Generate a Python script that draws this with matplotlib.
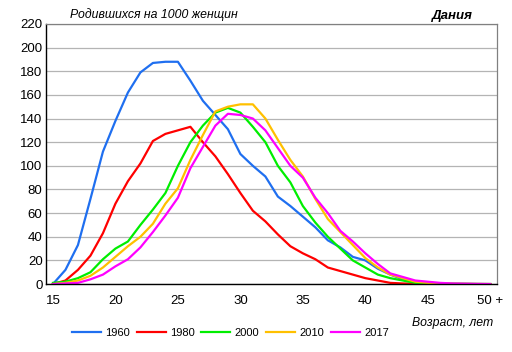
import matplotlib.pyplot as plt

plt.rcParams['font.family'] = ['Liberation Sans', 'DejaVu Sans']

# Возраст матери (15 ... 50+)
ages = list(range(15, 51))

births_1960 = [0, 12, 33, 72, 112, 138, 162, 179, 187, 188, 188, 172, 155, 143, 131, 110,
               100, 91, 74, 66, 57, 48, 37, 31, 23, 20, 13, 8, 4, 2, 1, 0.5, 0.3, 0.2, 0.1, 0]
births_1980 = [0, 3, 12, 24, 43, 68, 87, 102, 121, 127, 130, 133, 120, 108, 93, 77,
               62, 53, 42, 32, 26, 21, 14, 11, 8, 5, 3, 1, 0.5, 0.3, 0.2, 0.1, 0, 0, 0, 0]
births_2000 = [1, 2, 5, 10, 21, 30, 36, 50, 63, 77, 100, 120, 134, 145, 149, 145,
               133, 120, 100, 86, 66, 52, 40, 30, 20, 14, 8, 5, 3, 1, 0.5, 0.3, 0.2, 0.1, 0, 0]
births_2010 = [0, 1, 3, 7, 14, 23, 32, 40, 51, 68, 81, 105, 126, 146, 150, 152,
               152, 140, 122, 105, 91, 72, 55, 44, 33, 22, 14, 8, 5, 2, 1, 0.5, 0.3, 0.2, 0.1, 0]
births_2017 = [0, 0.5, 1, 4, 8, 15, 21, 31, 44, 58, 73, 98, 116, 134, 144, 143,
               140, 130, 115, 100, 90, 73, 60, 45, 36, 26, 17, 9, 6, 3, 2, 1, 0.5, 0.3, 0.1, 0]

series = [("1960", births_1960, "#1f6ff0"),
          ("1980", births_1980, "#ff0000"),
          ("2000", births_2000, "#00ee00"),
          ("2010", births_2010, "#ffc000"),
          ("2017", births_2017, "#ff00ff")]

x_ticks = [15, 20, 25, 30, 35, 40, 45, 50]
x_labels = ["15", "20", "25", "30", "35", "40", "45", "50 +"]

fig = plt.figure(figsize=(5.12, 3.52), dpi=100)
ax = fig.add_axes([0.09, 0.193, 0.881, 0.739])

for name, vals, col in series:
    ax.plot(ages, vals, color=col, linewidth=1.6, label=name)

ax.set_xlim(14.45, 50.55)
ax.set_ylim(0, 220)
ax.set_yticks(range(0, 221, 20))
ax.set_xticks(x_ticks)
ax.set_xticklabels(x_labels)
ax.tick_params(axis='both', length=0, labelsize=9.5)
ax.tick_params(axis='x', pad=8)
ax.tick_params(axis='y', pad=2.5)

ax.grid(axis='y', color='#b4b4b4', linewidth=0.9)
ax.set_axisbelow(True)
for s in ['top', 'right']:
    ax.spines[s].set_color('#808080')
    ax.spines[s].set_linewidth(0.9)
for s in ['left', 'bottom']:
    ax.spines[s].set_color('black')
    ax.spines[s].set_linewidth(1.0)

fig.text(0.30, 0.958, "Родившихся на 1000 женщин", fontsize=8.8, style='italic',
         ha='center', va='center')
fig.text(0.883, 0.955, "Дания", fontsize=9.5, style='italic', fontweight='bold',
         ha='center', va='center')
fig.text(0.885, 0.083, "Возраст, лет", fontsize=8.8, style='italic',
         ha='center', va='center')

fig.legend(loc='center', bbox_to_anchor=(0.45, 0.055), ncol=5, frameon=False,
           fontsize=8, handlelength=2.6, columnspacing=0.6, handletextpad=0.4)

fig.savefig("out.png", dpi=100)
